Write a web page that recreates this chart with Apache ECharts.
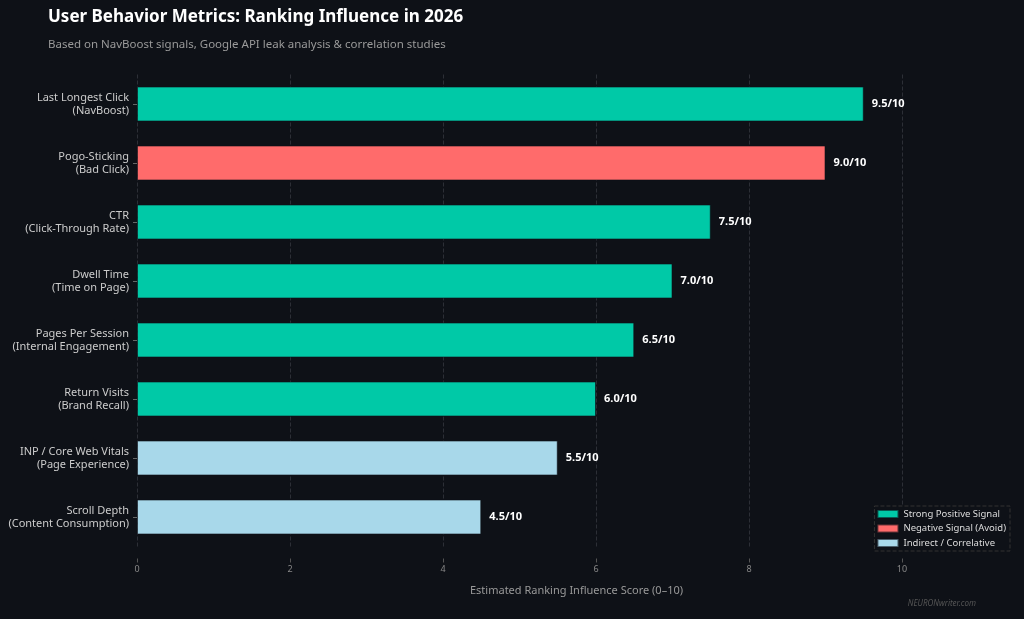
<!DOCTYPE html>
<head>
  <meta charset="utf-8">
  <title>User Behavior Metrics</title>
  <script src="https://cdn.jsdelivr.net/npm/echarts@6/dist/echarts.min.js"></script>
  <style>
    html, body { margin: 0; padding: 0; background: #0E1117; }
  </style>
</head>
<body>
  <div id="main" style="width: 1024px;height:619px;"></div>
  <script>
    var myChart = echarts.init(document.getElementById('main'));

    // metrics, top to bottom
    var metrics = [
      'Last Longest Click\n(NavBoost)',
      'Pogo-Sticking\n(Bad Click)',
      'CTR\n(Click-Through Rate)',
      'Dwell Time\n(Time on Page)',
      'Pages Per Session\n(Internal Engagement)',
      'Return Visits\n(Brand Recall)',
      'INP / Core Web Vitals\n(Page Experience)',
      'Scroll Depth\n(Content Consumption)'
    ];
    var scores = [9.5, 9.0, 7.5, 7.0, 6.5, 6.0, 5.5, 4.5];
    var groups = ['pos', 'neg', 'pos', 'pos', 'pos', 'pos', 'ind', 'ind'];

    var groupKeys = ['pos', 'neg', 'ind'];
    var groupNames = ['Strong Positive Signal', 'Negative Signal (Avoid)', 'Indirect / Correlative'];
    var groupColors = ['#00C9A7', '#FF6B6B', '#A8D8EA'];

    var series = groupKeys.map(function(key, i) {
      return {
        name: groupNames[i],
        type: 'bar',
        stack: 'score',
        barWidth: 35,
        itemStyle: { color: groupColors[i], borderColor: 'rgba(14,17,23,0.6)', borderWidth: 1 },
        label: {
          show: true,
          position: 'right',
          distance: 8,
          color: '#ffffff',
          fontWeight: 'bold',
          fontSize: 11,
          formatter: function(p) { return p.value.toFixed(1) + '/10'; }
        },
        data: scores.map(function(v, j) { return groups[j] === key ? v : '-'; })
      };
    });

    option = {
      backgroundColor: '#0E1117',
      textStyle: { fontFamily: 'Noto Sans' },
      title: {
        text: 'User Behavior Metrics: Ranking Influence in 2026',
        subtext: 'Based on NavBoost signals, Google API leak analysis & correlation studies',
        left: 43,
        top: 4,
        itemGap: 13,
        textStyle: { color: '#ffffff', fontSize: 17, fontWeight: 'bold' },
        subtextStyle: { color: '#9a9a9a', fontSize: 11.5 }
      },
      legend: {
        data: groupNames,
        orient: 'vertical',
        right: 14,
        top: 506,
        icon: 'rect',
        itemWidth: 21,
        itemHeight: 8,
        itemGap: 4.5,
        padding: [3, 4, 3, 2],
        borderColor: '#333',
        borderWidth: 1,
        borderType: 'dashed',
        backgroundColor: '#0E1117',
        textStyle: { color: '#dddddd', fontSize: 9.5 }
      },
      grid: { left: 137, right: 122, top: 74.5, bottom: 72.5 },
      xAxis: {
        type: 'value',
        min: 0,
        max: 10,
        interval: 2,
        offset: 12,
        name: 'Estimated Ranking Influence Score (0–10)',
        nameLocation: 'middle',
        nameGap: 27,
        nameTextStyle: { color: '#999999', fontSize: 11, padding: [0, 0, 0, 114] },
        axisLine: { show: false },
        axisTick: { show: true, length: 4, lineStyle: { color: '#555' } },
        axisLabel: { color: '#888888', fontSize: 9, margin: 6 },
        splitLine: { show: true, lineStyle: { color: '#2c2f36', type: 'dashed', width: 1 } }
      },
      yAxis: {
        type: 'category',
        inverse: true,
        data: metrics,
        axisLine: { show: false },
        axisTick: { show: true, alignWithLabel: true, length: 4, lineStyle: { color: '#666' } },
        axisLabel: { color: '#cccccc', fontSize: 11, margin: 8, lineHeight: 13 },
        splitLine: { show: false }
      },
      graphic: [{
        type: 'text',
        right: 48,
        top: 600,
        style: { text: 'NEURONwriter.com', fill: '#555555', font: 'italic 8px Noto Sans' }
      }],
      series: series
    };

    myChart.setOption(option);
  </script>
</body>
